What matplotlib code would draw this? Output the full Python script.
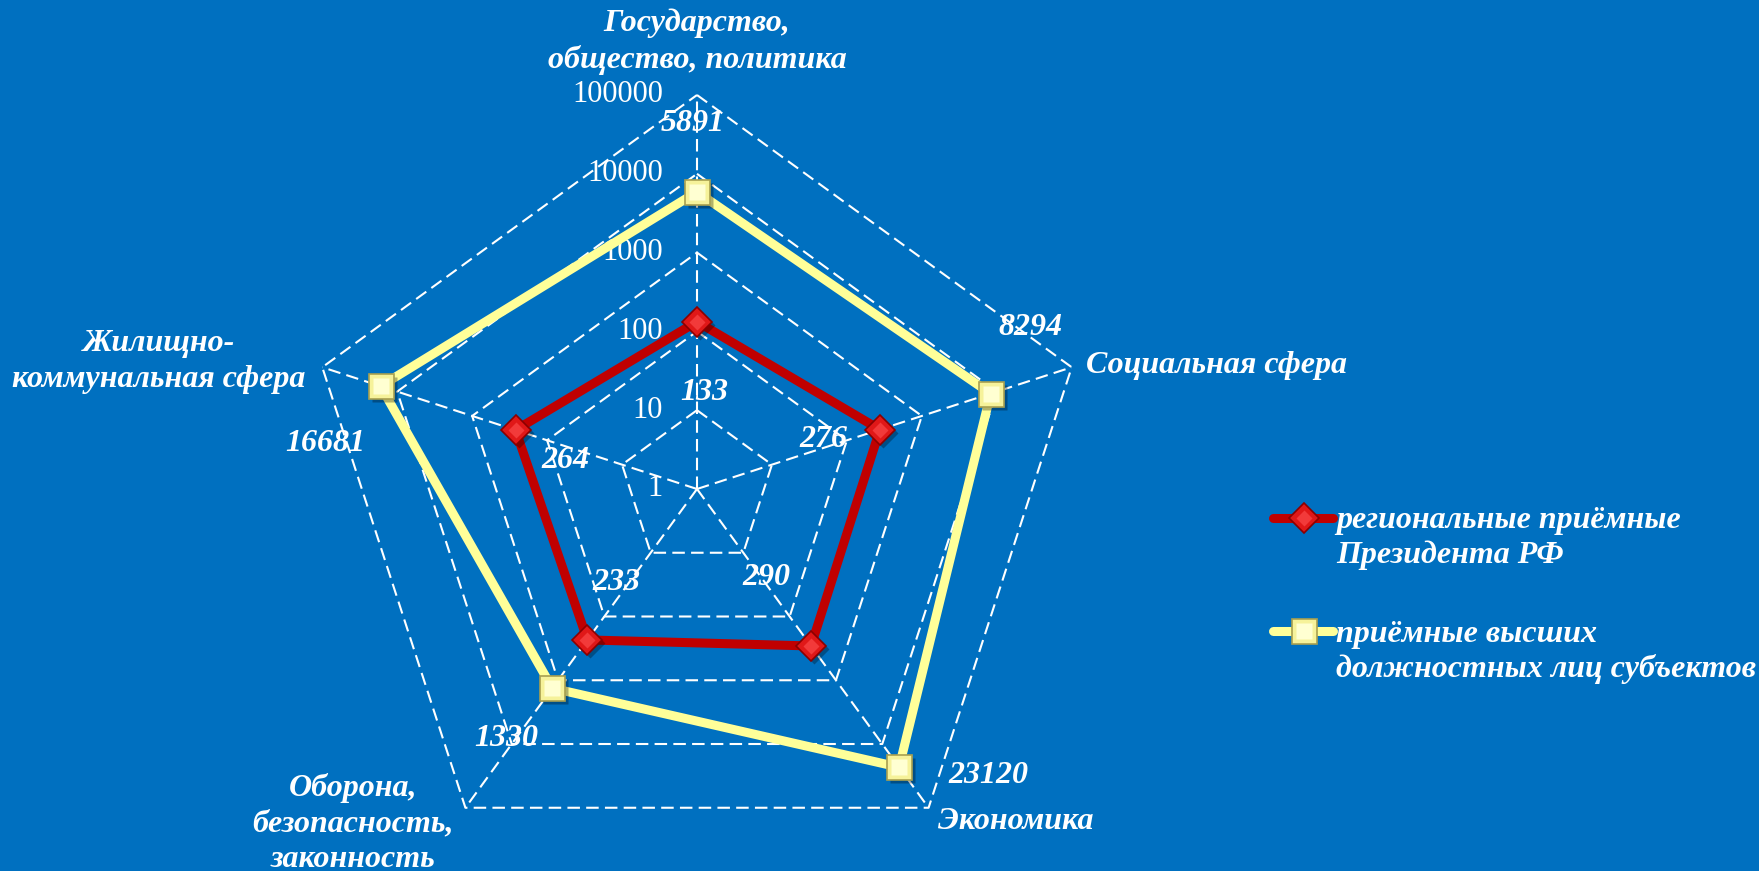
import numpy as np
import matplotlib
matplotlib.use('Agg')
import matplotlib.pyplot as plt
from matplotlib.lines import Line2D
import matplotlib.transforms as mtransforms

# ---- data ----
categories = ['Государство,\nобщество, политика', 'Социальная сфера', 'Экономика',
              'Оборона,\nбезопасность,\nзаконность', 'Жилищно-\nкоммунальная сфера']
regional = [133, 276, 290, 233, 264]
governors = [5891, 8294, 23120, 1330, 16681]
tick_values = [1, 10, 100, 1000, 10000, 100000]
tick_labels = ['1', '10', '100', '1000', '10000', '100000']
series_names = ['региональные приёмные\nПрезидента РФ',
                'приёмные высших\nдолжностных лиц субъектов']

# ---- style ----
BG = '#0070C0'
RED_LINE = '#C00000'
RED_FACE = '#E01818'
RED_EDGE = '#8A0000'
RED_HI = '#F23A3A'
YEL_LINE = '#FFFF99'
YEL_FACE = '#F6F29A'
YEL_EDGE = '#A8A050'
YEL_HI = '#FFFFD2'
SERIF = ['Liberation Serif', 'DejaVu Serif']
FS = 23
plt.rcParams['lines.scale_dashes'] = False

W, H = 1759, 871
fig = plt.figure(figsize=(W / 100, H / 100), dpi=100, facecolor=BG)
cx, cy, R = 697, 489, 394
ax = fig.add_axes([(cx - R) / W, 1 - (cy + R) / H, 2 * R / W, 2 * R / H], projection='polar')
ax.set_facecolor('none')
ax.set_theta_zero_location('N')
ax.set_theta_direction(-1)
ax.set_ylim(0, 5)
ax.grid(False)
ax.spines['polar'].set_visible(False)
ax.set_xticks([])
ax.set_yticks([])

n = len(categories)
theta = np.arange(n) * 2 * np.pi / n
theta_c = np.append(theta, theta[0])
levels = np.log10(tick_values)

# grid pentagons and spokes
for lv in levels[1:]:
    ax.plot(theta_c, np.full(n + 1, lv), color='white', lw=1.5, dashes=(9, 4.5), zorder=1, clip_on=False)
for t in theta:
    ax.plot([t, t], [0, levels[-1]], color='white', lw=1.5, dashes=(9, 4.5), zorder=1, clip_on=False)

# tick labels
for lv, lbl in zip(levels, tick_labels):
    ax.annotate(lbl, xy=(0, lv), xytext=(-34, 0), textcoords='offset pixels',
                ha='right', va='center', fontsize=22, family=SERIF, color='white',
                annotation_clip=False)

shadow = ax.transData + mtransforms.ScaledTranslation(3 / 100, -3 / 100, fig.dpi_scale_trans)

r_reg = np.log10(regional)
r_gov = np.log10(governors)

# series lines
ax.plot(theta_c, np.append(r_gov, r_gov[0]), color=YEL_LINE, lw=6.5, zorder=3,
        solid_joinstyle='round', clip_on=False)
ax.plot(theta_c, np.append(r_reg, r_reg[0]), color=RED_LINE, lw=6.5, zorder=3,
        solid_joinstyle='round', clip_on=False)

# markers (shadow, body, highlight)
ax.plot(theta, r_gov, ls='none', marker='s', ms=18, mfc='black', mec='none', alpha=0.3,
        transform=shadow, zorder=4, clip_on=False)
ax.plot(theta, r_gov, ls='none', marker='s', ms=18, mfc=YEL_FACE, mec=YEL_EDGE, mew=1.2,
        zorder=5, clip_on=False)
ax.plot(theta, r_gov, ls='none', marker='s', ms=11, mfc=YEL_HI, mec='none', zorder=6, clip_on=False)
ax.plot(theta, r_reg, ls='none', marker='D', ms=15, mfc='black', mec='none', alpha=0.3,
        transform=shadow, zorder=4, clip_on=False)
ax.plot(theta, r_reg, ls='none', marker='D', ms=15, mfc=RED_FACE, mec=RED_EDGE, mew=1.2,
        zorder=5, clip_on=False)
ax.plot(theta, r_reg, ls='none', marker='D', ms=8, mfc=RED_HI, mec='none', zorder=6, clip_on=False)

# data labels
lab_kw = dict(textcoords='offset pixels', ha='center', va='center', fontsize=FS,
              family=SERIF, fontweight='bold', fontstyle='italic', color='white',
              zorder=7, annotation_clip=False)
reg_off = [(7, -71), (-57, -10), (-45, 68), (29, 57), (50, -30)]
gov_off = [(-4, 68), (40, 66), (89, -8), (-46, -50), (-55, -57)]
for t, r, v, off in zip(theta, r_reg, regional, reg_off):
    ax.annotate(str(v), xy=(t, r), xytext=off, **lab_kw)
for t, r, v, off in zip(theta, r_gov, governors, gov_off):
    ax.annotate(str(v), xy=(t, r), xytext=off, **lab_kw)

# category labels
cat_off = [(0, 53), (14, 2), (9, -14), (-112, -16), (-17, 6)]
cat_ha = ['center', 'left', 'left', 'center', 'right']
for t, lbl, off, ha in zip(theta, categories, cat_off, cat_ha):
    ax.annotate(lbl, xy=(t, levels[-1]), xytext=off, textcoords='offset pixels',
                ha=ha, va='center', multialignment='center', fontsize=FS, family=SERIF,
                fontweight='bold', fontstyle='italic', color='white', linespacing=1.3,
                annotation_clip=False)

# legend (manual)
def px(x, y):
    return x / W, 1 - y / H

leg_items = [
    (series_names[0], RED_LINE, 'D', 15, RED_FACE, RED_EDGE, RED_HI, 8, 518, 538),
    (series_names[1], YEL_LINE, 's', 18, YEL_FACE, YEL_EDGE, YEL_HI, 11, 631, 652),
]
for name, lc, mk, ms, mf, me, mh, msh, ly, ty in leg_items:
    x0, y0 = px(1273, ly)
    x1, _ = px(1333, ly)
    xm, _ = px(1304, ly)
    fig.add_artist(Line2D([x0, x1], [y0, y0], color=lc, lw=6.5, solid_capstyle='round',
                          transform=fig.transFigure))
    fig.add_artist(Line2D([xm], [y0], ls='none', marker=mk, ms=ms, mfc=mf, mec=me, mew=1.2,
                          transform=fig.transFigure))
    fig.add_artist(Line2D([xm], [y0], ls='none', marker=mk, ms=msh, mfc=mh, mec='none',
                          transform=fig.transFigure))
    tx, tyf = px(1336, ty)
    fig.text(tx, tyf, name, ha='left', va='center', fontsize=FS, family=SERIF,
             fontweight='bold', fontstyle='italic', color='white', linespacing=1.25)

fig.savefig('out.png', dpi=100, facecolor=BG)
